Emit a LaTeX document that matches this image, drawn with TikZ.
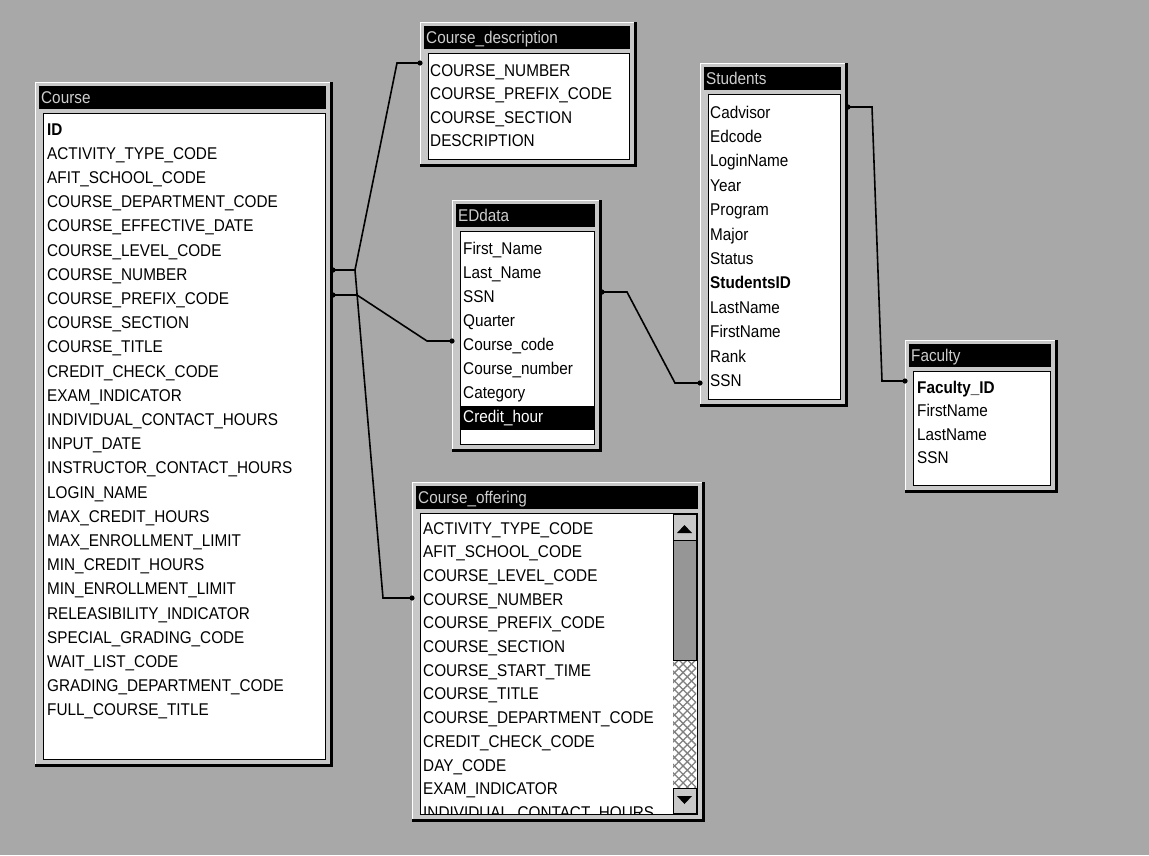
\documentclass[tikz,border=0pt]{standalone}
\usepackage{fontspec}
\newfontfamily\msfont[FakeStretch=0.9]{Liberation Sans}
\usetikzlibrary{patterns.meta}
\definecolor{bggray}{RGB}{168,168,168}
\definecolor{framegray}{RGB}{200,200,200}
\definecolor{thumbgray}{RGB}{150,150,150}
\definecolor{titlegray}{RGB}{205,205,205}
\newcommand{\dbwin}[6]{%
  \fill[framegray] (#1,#2) rectangle (#3,#4);
  \draw[white, line width=1pt] (#1+0.5,#4) -- (#1+0.5,#2+0.5) -- (#3,#2+0.5);
  \draw[black, line width=3.5pt] (#3-1.75,#2) -- (#3-1.75,#4-1.75) -- (#1,#4-1.75);
  \fill[black] (#1+4,#2+4) rectangle (#3-7,#2+27);
  \node[titletext] (#6) at (#1+6,#2+21) {#5};
  \filldraw[fill=white, draw=black, line width=1pt] (#1+8,#2+31) rectangle (#3-8,#4-8);
}
\begin{document}
\begin{tikzpicture}[x=1pt,y=-1pt,
  rowtext/.style={anchor=base west, inner sep=0pt, font=\msfont\fontsize{17}{17}\selectfont},
  titletext/.style={anchor=base west, inner sep=0pt, text=titlegray, font=\msfont\fontsize{17}{17}\selectfont},
  link/.style={line width=1.6pt, black, line join=miter},
  scrollbtn/.style={draw=black, fill=framegray, line width=0.8pt}]
\useasboundingbox (0,0) rectangle (1149,855);
\fill[bggray] (0,0) rectangle (1149,855);

% ---------- Course ----------
\dbwin{35}{82}{333}{767}{Course}{course}
\foreach \t [count=\i from 0] in {{\bfseries ID}, ACTIVITY\_TYPE\_CODE, AFIT\_SCHOOL\_CODE, COURSE\_DEPARTMENT\_CODE, COURSE\_EFFECTIVE\_DATE, COURSE\_LEVEL\_CODE, COURSE\_NUMBER, COURSE\_PREFIX\_CODE, COURSE\_SECTION, COURSE\_TITLE, CREDIT\_CHECK\_CODE, EXAM\_INDICATOR, INDIVIDUAL\_CONTACT\_HOURS, INPUT\_DATE, INSTRUCTOR\_CONTACT\_HOURS, LOGIN\_NAME, MAX\_CREDIT\_HOURS, MAX\_ENROLLMENT\_LIMIT, MIN\_CREDIT\_HOURS, MIN\_ENROLLMENT\_LIMIT, RELEASIBILITY\_INDICATOR, SPECIAL\_GRADING\_CODE, WAIT\_LIST\_CODE, GRADING\_DEPARTMENT\_CODE, FULL\_COURSE\_TITLE}
  \node[rowtext] (course-\i) at (47,129+24.2*\i+6) {\t};

% ---------- Course_description ----------
\dbwin{420}{22}{637}{167}{Course\_description}{cdesc}
\foreach \t [count=\i from 0] in {COURSE\_NUMBER, COURSE\_PREFIX\_CODE, COURSE\_SECTION, DESCRIPTION}
  \node[rowtext] (cdesc-\i) at (430,70+23.5*\i+6) {\t};

% ---------- EDdata ----------
\dbwin{452}{200}{602}{452}{EDdata}{eddata}
\fill[black] (460,406) rectangle (594,430);
\foreach \t [count=\i from 0] in {First\_Name, Last\_Name, SSN, Quarter, Course\_code, Course\_number, Category}
  \node[rowtext] (eddata-\i) at (463,248+24.1*\i+6) {\t};
\node[rowtext, text=white] (eddata-7) at (463,248+24.1*7+6) {Credit\_hour};

% ---------- Students ----------
\dbwin{700}{63}{848}{407}{Students}{students}
\foreach \t [count=\i from 0] in {Cadvisor, Edcode, LoginName, Year, Program, Major, Status, {\bfseries StudentsID}, LastName, FirstName, Rank, SSN}
  \node[rowtext] (students-\i) at (710,112+24.4*\i+6) {\t};

% ---------- Faculty ----------
\dbwin{905}{340}{1058}{493}{Faculty}{faculty}
\foreach \t [count=\i from 0] in {{\bfseries Faculty\_ID}, FirstName, LastName, SSN}
  \node[rowtext] (faculty-\i) at (917,387+23.5*\i+6) {\t};

% ---------- Course_offering ----------
\dbwin{412}{482}{705}{822}{Course\_offering}{coffer}
\begin{scope}
  \clip (420,514) rectangle (673,813);
  \foreach \t [count=\i from 0] in {ACTIVITY\_TYPE\_CODE, AFIT\_SCHOOL\_CODE, COURSE\_LEVEL\_CODE, COURSE\_NUMBER, COURSE\_PREFIX\_CODE, COURSE\_SECTION, COURSE\_START\_TIME, COURSE\_TITLE, COURSE\_DEPARTMENT\_CODE, CREDIT\_CHECK\_CODE, DAY\_CODE, EXAM\_INDICATOR, INDIVIDUAL\_CONTACT\_HOURS}
    \node[rowtext] (coffer-\i) at (423,528+23.7*\i+6) {\t};
\end{scope}
% scrollbar
\fill[white] (673,660) rectangle (696,788);
\fill[pattern={Lines[angle=45,distance=6pt,line width=1.3pt]}, pattern color=gray] (673,660) rectangle (696,788);
\fill[pattern={Lines[angle=-45,distance=6pt,line width=1.3pt]}, pattern color=gray] (673,660) rectangle (696,788);
\draw[scrollbtn] (673,514) rectangle (696,540);
\fill[black] (677,533) -- (692,533) -- (684.5,525) -- cycle;
\draw[scrollbtn, fill=thumbgray] (673,540) rectangle (696,660);
\draw[scrollbtn] (673,788) rectangle (696,813);
\fill[black] (677,796) -- (692,796) -- (684.5,804) -- cycle;

% ---------- relationship lines ----------
\coordinate (p-course-cn) at (333,270);
\coordinate (p-course-cpc) at (333,295);
\coordinate (p-cd-cn) at (420,63);
\coordinate (p-co-cn) at (412,598);
\coordinate (p-ed-cc) at (452,341);
\coordinate (p-ed-ssn) at (602,292);
\coordinate (p-st-ssn) at (700,383);
\coordinate (p-st-cad) at (848,107);
\coordinate (p-fa-id) at (905,381);

\draw[link] (p-course-cn) -- ++(22,0) -- ([xshift=-23pt]p-cd-cn) -- (p-cd-cn);
\draw[link] (p-course-cn) -- ++(22,0) -- ([xshift=-29pt]p-co-cn) -- (p-co-cn);
\draw[link] (p-course-cpc) -- ++(24,0) -- ([xshift=-25pt]p-ed-cc) -- (p-ed-cc);
\draw[link] (p-ed-ssn) -- ++(25,0) -- ([xshift=-25pt]p-st-ssn) -- (p-st-ssn);
\draw[link] (p-st-cad) -- ++(24,0) -- ([xshift=-23pt]p-fa-id) -- (p-fa-id);
\foreach \p in {p-course-cn, p-course-cpc, p-cd-cn, p-co-cn, p-ed-cc, p-ed-ssn, p-st-ssn, p-st-cad, p-fa-id}
  \fill[black] (\p) circle[radius=2.6pt];
\end{tikzpicture}
\end{document}
